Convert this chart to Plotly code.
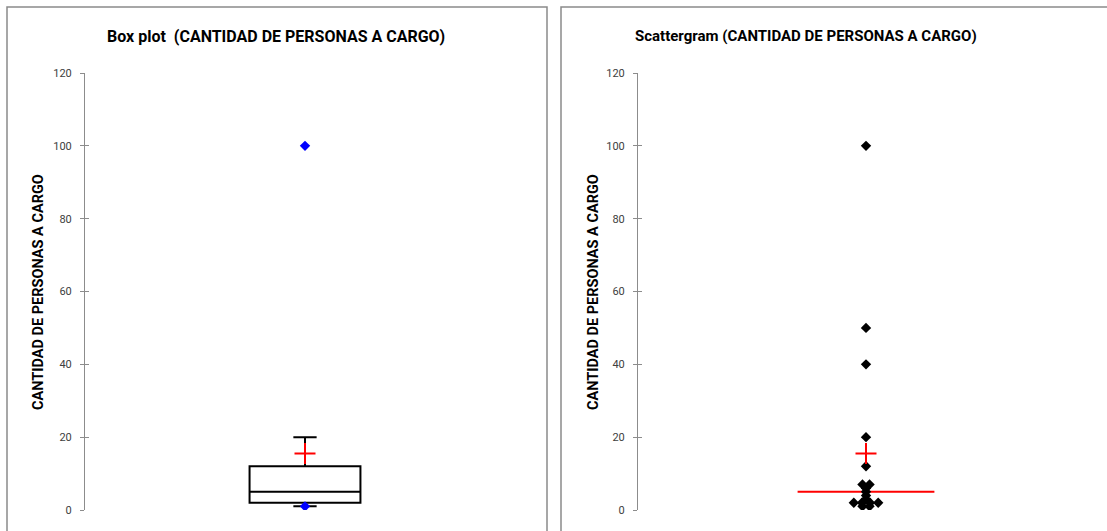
import numpy as np
import plotly.graph_objects as go

# ---- data ----
values = [100, 50, 40, 20, 12, 7, 7, 6, 5, 4, 3, 2, 2, 2, 2, 1, 1]
y_title = "CANTIDAD DE PERSONAS A CARGO"
title_box = "Box plot  (CANTIDAD DE PERSONAS A CARGO)"
title_scatter = "Scattergram (CANTIDAD DE PERSONAS A CARGO)"
y_ticks = [0, 20, 40, 60, 80, 100, 120]

v = np.array(values, dtype=float)
q1, med, q3 = np.percentile(v, [25, 50, 75])
iqr = q3 - q1
hi_fence = v[v <= q3 + 1.5 * iqr].max()
lo_fence = v[v >= q1 - 1.5 * iqr].min()
mean = v.mean()

# horizontal jitter for repeated values in the scattergram
jit_step = 0.031
counts = {}
for val in values:
    counts[val] = counts.get(val, 0) + 1
seen = {}
xs = []
for val in values:
    k = counts[val]
    i = seen.get(val, 0)
    seen[val] = i + 1
    xs.append((i - (k - 1) / 2) * jit_step * (1.15 if k > 2 else 1.0))

W, H = 1107, 531
FONT = "Roboto, Liberation Sans, sans-serif"
AX = "#8c8c8c"

fig = go.Figure()

# Box plot
fig.add_trace(go.Box(
    x=[0.5], q1=[q1], median=[med], q3=[q3],
    lowerfence=[lo_fence], upperfence=[hi_fence],
    width=0.252, whiskerwidth=0.21,
    line=dict(color="black", width=2), fillcolor="white",
    boxpoints=False, hoverinfo="skip", xaxis="x", yaxis="y", showlegend=False))
fig.add_trace(go.Scatter(
    x=[0.5], y=[mean], mode="markers",
    marker=dict(symbol="cross-thin", size=15, line=dict(color="red", width=2)),
    xaxis="x", yaxis="y", showlegend=False))
fig.add_trace(go.Scatter(
    x=[0.5, 0.5], y=[v.min(), v.max()], mode="markers",
    marker=dict(symbol="diamond", size=8, color="blue"),
    xaxis="x", yaxis="y", showlegend=False))

# Scattergram
fig.add_trace(go.Scatter(
    x=[-0.3, 0.3], y=[med, med], mode="lines",
    line=dict(color="red", width=2), xaxis="x2", yaxis="y2", showlegend=False))
fig.add_trace(go.Scatter(
    x=xs, y=values, mode="markers",
    marker=dict(symbol="diamond", size=8, color="black"),
    xaxis="x2", yaxis="y2", showlegend=False))
fig.add_trace(go.Scatter(
    x=[0], y=[mean], mode="markers",
    marker=dict(symbol="cross-thin", size=15, line=dict(color="red", width=2)),
    xaxis="x2", yaxis="y2", showlegend=False))

ydom = [(H - 510) / H, (H - 73) / H]
yax = dict(range=[0, 120], tickvals=y_ticks, showgrid=False, zeroline=False,
           showline=True, linecolor=AX, linewidth=1, ticks="outside", ticklen=4,
           tickcolor=AX, tickfont=dict(family=FONT, size=11, color="#404040"),
           ticklabelstandoff=6, domain=ydom, fixedrange=True, automargin=False)
yin = dict(range=[0, 120], tickvals=y_ticks, showgrid=False, zeroline=False,
           showline=False, ticks="inside", ticklen=4, tickcolor=AX,
           showticklabels=False, domain=ydom, automargin=False)

fig.update_layout(
    width=W, height=H, margin=dict(l=0, r=0, t=0, b=0, autoexpand=False),
    autosize=False, paper_bgcolor="white", plot_bgcolor="white",
    xaxis=dict(domain=[85 / W, 525 / W], range=[0, 1], visible=False, automargin=False),
    yaxis=dict(anchor="x", **yax),
    yaxis3=dict(overlaying="y", anchor="x", **yin),
    xaxis2=dict(domain=[638 / W, 1094 / W], range=[-1, 1], visible=False, automargin=False),
    yaxis2=dict(anchor="x2", **yax),
    yaxis4=dict(overlaying="y2", anchor="x2", **yin),
)

# dummy traces so the inside-tick axes render
fig.add_trace(go.Scatter(x=[None], y=[None], xaxis="x", yaxis="y3", showlegend=False))
fig.add_trace(go.Scatter(x=[None], y=[None], xaxis="x2", yaxis="y4", showlegend=False))

# chart frames
fig.add_shape(type="rect", xref="paper", yref="paper",
              x0=7 / W, x1=547 / W, y0=-0.05, y1=(H - 7) / H,
              line=dict(color="#8a8a8a", width=1.5), layer="below")
fig.add_shape(type="rect", xref="paper", yref="paper",
              x0=561 / W, x1=1.05, y0=-0.05, y1=(H - 7) / H,
              line=dict(color="#8a8a8a", width=1.5), layer="below")

# titles
for xc, txt, fs in [(276, title_box, 16), (806, title_scatter, 15)]:
    fig.add_annotation(x=xc / W, y=(H - 36) / H, xref="paper", yref="paper",
                       text="<b>%s</b>" % txt, showarrow=False,
                       font=dict(family=FONT, size=fs, color="black"),
                       xanchor="center", yanchor="middle")
for xc in [38, 593]:
    fig.add_annotation(x=xc / W, y=(H - 292) / H, xref="paper", yref="paper",
                       text="<b>%s</b>" % y_title, showarrow=False, textangle=-90,
                       font=dict(family=FONT, size=14.5, color="black"),
                       xanchor="center", yanchor="middle")

fig.write_html(
    "out.html",
    config={"responsive": False, "displayModeBar": False},
    post_script="document.body.style.margin='0';document.body.style.overflow='hidden';",
)
